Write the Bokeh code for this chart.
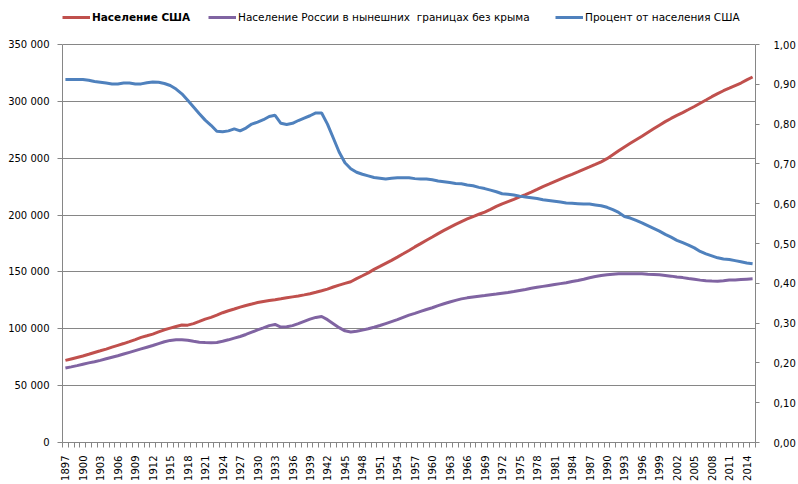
from bokeh.plotting import figure
from bokeh.models import (Range1d, LinearAxis, FixedTicker, CustomJSTickFormatter,
                          Legend, LegendItem, ColumnDataSource)
from bokeh.embed import file_html
from bokeh.resources import INLINE

# ---- data -------------------------------------------------------------
years = list(range(1897, 2016))

usa = [72189, 73494, 74799, 76094, 77584, 79163, 80632, 82166, 83822, 85450,
       87008, 88710, 90490, 92407, 93863, 95335, 97225, 99111, 100546, 101961,
       103268, 103208, 104514, 106461, 108538, 110049, 111947, 114109, 115829, 117397,
       119035, 120509, 121767, 123077, 124040, 124840, 125579, 126374, 127250, 128053,
       128825, 129825, 130880, 132122, 133402, 134860, 136739, 138397, 139928, 141389,
       144126, 146631, 149188, 152271, 154878, 157553, 160184, 163026, 165931, 168903,
       171984, 174882, 177830, 180671, 183691, 186538, 189242, 191889, 194303, 196560,
       198712, 200706, 202677, 205052, 207661, 209896, 211909, 213854, 215973, 218035,
       220239, 222585, 225055, 227225, 229466, 231664, 233792, 235825, 237924, 240133,
       242289, 244499, 246819, 249623, 252981, 256514, 259919, 263126, 266278, 269394,
       272647, 275854, 279040, 282162, 284969, 287625, 290108, 292805, 295517, 298380,
       301231, 304094, 306772, 309330, 311583, 313874, 316129, 318857, 321419]

russia = [65500, 66500, 67600, 68800, 70000, 71000, 72200, 73600, 75000, 76300,
          77800, 79300, 80800, 82300, 83800, 85300, 87000, 88600, 89800, 90300,
          90400, 90000, 89000, 88200, 87900, 87800, 88000, 89000, 90300, 91800,
          93200, 95000, 97000, 99000, 100800, 102800, 103800, 101500, 101800, 102800,
          104500, 106500, 108500, 110000, 110800, 108000, 104500, 101000, 98200, 97200,
          97800, 98800, 100000, 101400, 102900, 104600, 106300, 108000, 110000, 112000,
          113600, 115300, 117000, 118500, 120400, 122000, 123500, 125000, 126300, 127200,
          128000, 128700, 129300, 130000, 130600, 131300, 132000, 132800, 133700, 134600,
          135600, 136500, 137300, 138100, 138900, 139700, 140500, 141600, 142500, 143600,
          144900, 145900, 146900, 147600, 148000, 148400, 148500, 148400, 148400, 148300,
          148000, 147800, 147500, 146900, 146300, 145600, 145000, 144200, 143500, 142800,
          142200, 142000, 141900, 142200, 142900, 143000, 143300, 143600, 143900]

share = [0.912, 0.912, 0.912, 0.912, 0.910, 0.907, 0.905, 0.903, 0.901, 0.901,
         0.903, 0.903, 0.901, 0.901, 0.904, 0.906, 0.905, 0.902, 0.897, 0.888,
         0.876, 0.860, 0.843, 0.826, 0.810, 0.797, 0.782, 0.781, 0.783, 0.788,
         0.783, 0.790, 0.800, 0.805, 0.811, 0.819, 0.822, 0.802, 0.799, 0.802,
         0.809, 0.815, 0.821, 0.828, 0.828, 0.800, 0.765, 0.730, 0.703, 0.688,
         0.679, 0.674, 0.670, 0.666, 0.664, 0.662, 0.664, 0.665, 0.665, 0.665,
         0.663, 0.662, 0.662, 0.660, 0.657, 0.655, 0.653, 0.651, 0.650, 0.647,
         0.645, 0.641, 0.638, 0.634, 0.630, 0.625, 0.624, 0.622, 0.619, 0.617,
         0.615, 0.613, 0.610, 0.608, 0.606, 0.604, 0.602, 0.601, 0.600, 0.599,
         0.599, 0.597, 0.595, 0.591, 0.585, 0.578, 0.568, 0.564, 0.558, 0.552,
         0.545, 0.538, 0.531, 0.523, 0.516, 0.508, 0.502, 0.496, 0.489, 0.480,
         0.474, 0.469, 0.464, 0.461, 0.460, 0.457, 0.454, 0.451, 0.449]

label_years = list(range(1897, 2016, 3))
left_ticks = [0, 50000, 100000, 150000, 200000, 250000, 300000, 350000]
right_ticks = [0.0, 0.1, 0.2, 0.3, 0.4, 0.5, 0.6, 0.7, 0.8, 0.9, 1.0]

names = ["Население США",
         "Население России в нынешних  границах без крыма",
         "Процент от населения США"]
colors = ["#C0504D", "#8064A2", "#4F81BD"]

# ---- layout constants --------------------------------------------------
FONT = "DejaVu Sans"
GRAY = "#868686"
W, H = 798, 484
TOP, BOTTOM, LEFT, RIGHT = 4, 42, 62, 41
AXIS_H = 398                      # pixel height of the 0..350000 axis span
FRAME_H = H - TOP - BOTTOM        # frame also holds the legend strip on top
LEFT_MAX, RIGHT_MAX = 350000, 1.0

src = ColumnDataSource(dict(year=years, usa=usa, russia=russia, share=share))

p = figure(width=W, height=H, output_backend="svg", toolbar_location=None,
           x_range=Range1d(years[0] - 0.5, years[-1] + 0.5),
           y_range=Range1d(0, LEFT_MAX * FRAME_H / AXIS_H),
           min_border_left=LEFT, min_border_right=RIGHT, min_border_top=TOP,
           min_border_bottom=BOTTOM)
p.extra_y_ranges = {"right": Range1d(0, RIGHT_MAX * FRAME_H / AXIS_H)}
p.outline_line_color = None
p.background_fill_color = "white"
p.border_fill_color = "white"

# x axis
xa = p.xaxis[0]
xa.ticker = FixedTicker(ticks=label_years,
                        minor_ticks=[y - 0.5 for y in years] + [years[-1] + 0.5])
xa.major_label_orientation = 1.5707963
xa.major_tick_out = 0
xa.major_tick_in = 0
xa.minor_tick_out = 5
xa.minor_tick_in = 0
xa.minor_tick_line_color = GRAY
xa.axis_line_color = GRAY
xa.major_label_standoff = 8
xa.major_label_text_font = FONT
xa.major_label_text_font_size = "10px"
xa.major_label_text_color = "black"

# left axis
ya = p.yaxis[0]
ya.ticker = FixedTicker(ticks=left_ticks)
ya.bounds = (0, LEFT_MAX)
ya.formatter = CustomJSTickFormatter(code="""
    if (tick == 0) return "0";
    return Math.round(tick / 1000).toString() + " 000";
""")
ya.major_tick_out = 5
ya.major_tick_in = 0
ya.minor_tick_out = 0
ya.minor_tick_in = 0
ya.major_tick_line_color = GRAY
ya.axis_line_color = GRAY
ya.major_label_standoff = 8
ya.major_label_text_font = FONT
ya.major_label_text_font_size = "10px"
ya.major_label_text_color = "black"

# right axis
ra = LinearAxis(y_range_name="right",
                ticker=FixedTicker(ticks=right_ticks),
                bounds=(0, RIGHT_MAX),
                formatter=CustomJSTickFormatter(code="return tick.toFixed(2).replace('.', ',');"))
ra.major_tick_out = 4
ra.major_tick_in = 0
ra.minor_tick_out = 0
ra.minor_tick_in = 0
ra.major_tick_line_color = GRAY
ra.axis_line_color = GRAY
ra.major_label_standoff = 14
ra.major_label_text_font = FONT
ra.major_label_text_font_size = "10px"
ra.major_label_text_color = "black"
p.add_layout(ra, "right")

# grid
p.xgrid.visible = False
p.ygrid.grid_line_color = GRAY
p.ygrid.grid_line_width = 1

# lines
r_usa = p.line("year", "usa", source=src, line_color=colors[0], line_width=3)
r_rus = p.line("year", "russia", source=src, line_color=colors[1], line_width=3)
r_shr = p.line("year", "share", source=src, line_color=colors[2], line_width=3,
               y_range_name="right")

# legends in the strip at the top of the frame
LEG_BOTTOM = FRAME_H - 22   # legend bottom edge, measured from frame bottom

def make_legend(label, rend, x, bold):
    lg = Legend(items=[LegendItem(label=label, renderers=[rend])],
                location=(x, LEG_BOTTOM), orientation="horizontal",
                padding=0, margin=0, spacing=0,
                glyph_width=28, glyph_height=18, label_height=18,
                label_standoff=2,
                label_text_font=FONT, label_text_font_size="10.5px",
                label_text_font_style="bold" if bold else "normal",
                label_text_color="black",
                background_fill_alpha=0, border_line_color=None)
    p.add_layout(lg, "center")

make_legend(names[0], r_usa, 0, True)
make_legend(names[1], r_rus, 146, False)
make_legend(names[2], r_shr, 493, False)

open("out.html", "w").write(file_html(p, INLINE))
